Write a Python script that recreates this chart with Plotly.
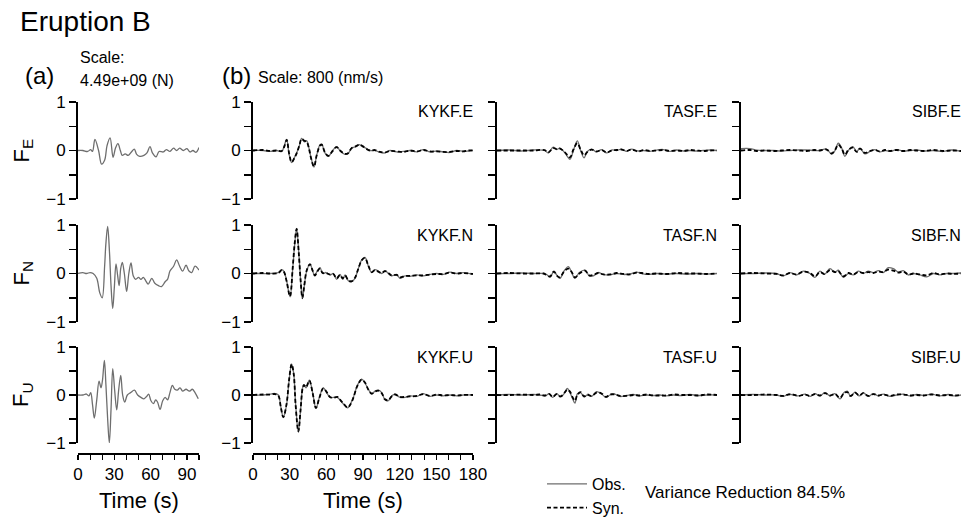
import plotly.graph_objects as go

# ---------------- data ----------------
# Panel (a): source force time functions, 0-100 s, normalised
FE_t = [0, 4, 8, 10.5, 12, 14, 17, 19.5, 22, 24, 26.5, 29, 31, 33, 35, 36.5, 39, 41.5, 44.5, 46.5, 48.5, 51, 54.5, 57, 59.5, 61.5, 64.5, 67, 70.5, 73, 76, 79, 81.5, 84, 87, 90, 92.5, 95, 97.5, 100]
FE_v = [0, 0, -0.02, 0.02, -0.02, 0.23, 0.0, -0.28, -0.2, 0.1, 0.26, -0.14, 0.05, 0.14, 0.0, -0.1, -0.07, -0.1, -0.02, 0.03, -0.08, -0.12, -0.1, -0.05, 0.08, -0.05, -0.13, -0.02, -0.03, 0.02, -0.02, 0.05, 0.0, 0.05, 0.0, 0.04, -0.03, 0.0, -0.04, 0.06]

FN_t = [0, 4, 7, 10, 12.5, 15.5, 18, 20, 22, 23, 24.5, 26, 27.3, 28.7, 30, 31.4, 32.8, 34, 35.3, 36.6, 38.3, 40.2, 42, 43.8, 45.7, 47.7, 50, 52, 54, 56, 58, 61, 63.5, 66.5, 69, 72, 74, 76, 79, 81.5, 84, 86.5, 89.3, 91.7, 94, 96.7, 100]
FN_v = [0, 0.02, 0.0, 0.02, 0.0, -0.1, -0.4, -0.5, 0.15, 0.6, 0.97, 0.45, -0.25, -0.72, -0.3, 0.2, -0.05, -0.25, 0.1, 0.23, 0.0, -0.37, 0.0, 0.22, -0.05, -0.12, -0.08, -0.12, -0.08, -0.15, -0.22, -0.1, -0.2, -0.25, -0.27, -0.17, -0.12, 0.05, 0.15, 0.28, 0.15, 0.05, 0.17, 0.05, 0.02, 0.15, 0.07]

FU_t = [0, 4, 7, 9, 10.5, 12, 13.5, 15.5, 17.4, 19, 20.2, 21.8, 23.1, 24.5, 25.9, 27.3, 28.7, 30.3, 32, 33.6, 35.3, 36.9, 38.6, 40.8, 43.5, 46.6, 49.3, 52, 54.5, 56.7, 58.4, 60.3, 62.3, 64.2, 65.8, 67.8, 70, 72, 74, 76, 78, 80, 82, 84.3, 86.5, 89.3, 92, 94.5, 96.7, 99.4]
FU_v = [0, 0.0, 0.02, -0.02, 0.05, -0.2, -0.48, -0.1, 0.29, 0.15, 0.3, 0.72, 0.2, -0.5, -1.0, -0.3, 0.55, 0.1, -0.31, 0.1, 0.41, 0.0, -0.15, 0.0, 0.05, 0.1, 0.0, -0.05, -0.08, -0.03, 0.02, -0.12, -0.18, -0.1, -0.15, -0.3, -0.12, -0.05, -0.1, 0.05, 0.2, 0.12, 0.1, 0.15, 0.08, 0.12, 0.08, 0.12, 0.05, -0.08]

# Panel (b): station waveforms, 0-180 s (obs = observed, syn = synthetic)
KE_t = [0, 8.5, 14, 19.5, 23.5, 25.6, 27.5, 29.7, 31.6, 33.8, 35.7, 37.9, 39.8, 42, 43.9, 45.8, 47.5, 49.9, 52.1, 54.8, 56.2, 58.9, 61.6, 65.2, 68.4, 71.7, 75.3, 78, 80.7, 84.3, 87, 89.7, 92.4, 95.7, 99.8, 104, 108, 112, 117.5, 123, 128.4, 134, 139.4, 144.8, 150.3, 155.7, 161.2, 166.6, 172, 176.2, 180]
KE_obs = [0, 0.0, -0.02, 0.0, -0.02, 0.1, 0.23, -0.1, -0.25, -0.15, -0.05, 0.1, 0.25, 0.18, 0.2, 0.05, -0.15, -0.34, -0.1, 0.12, 0.13, -0.05, -0.12, 0.0, 0.08, -0.02, -0.08, -0.06, 0.05, 0.08, 0.12, 0.08, 0.05, 0.0, 0.0, -0.04, -0.05, 0.0, -0.03, -0.02, 0.0, -0.03, 0.02, -0.03, -0.01, -0.03, -0.04, 0.0, -0.02, -0.01, 0.0]
KE_syn = [0, 0.01, -0.01, 0.0, -0.01, 0.08, 0.22, -0.08, -0.24, -0.16, -0.06, 0.1, 0.24, 0.2, 0.18, 0.04, -0.16, -0.33, -0.1, 0.1, 0.12, -0.04, -0.11, -0.01, 0.07, -0.01, -0.07, -0.05, 0.05, 0.09, 0.12, 0.09, 0.04, 0.0, 0.01, -0.03, -0.04, -0.01, -0.02, -0.03, 0.0, -0.02, 0.01, -0.02, -0.02, -0.03, -0.03, -0.01, -0.02, 0.0, 0.0]

KN_t = [0, 8, 14, 20.7, 23.5, 25.4, 27.5, 30.3, 32.5, 34.1, 35.7, 37.4, 39, 40.4, 42, 43.9, 46.6, 48.8, 50.7, 52.1, 54.8, 57, 59.7, 63, 65.7, 68.4, 71.2, 73.4, 75.3, 78, 80.7, 83.4, 86.2, 88.9, 91.6, 94.4, 97.1, 99.8, 102.5, 105.3, 108, 110.7, 113.4, 117.5, 120.3, 124.4, 128.4, 134, 139.4, 144.8, 150.3, 155.7, 161.2, 166.6, 172, 180]
KN_obs = [0, 0.0, 0.0, 0.02, 0.08, 0.04, -0.15, -0.48, 0.1, 0.6, 0.93, 0.45, -0.15, -0.52, -0.25, 0.05, 0.2, 0.05, -0.05, 0.03, 0.12, 0.0, 0.02, -0.03, 0.0, -0.12, -0.02, -0.12, -0.03, -0.15, -0.17, -0.1, 0.1, 0.28, 0.33, 0.15, 0.02, 0.08, 0.05, 0.0, 0.06, 0.0, -0.05, -0.02, -0.1, -0.05, -0.06, -0.03, -0.05, -0.02, 0.0, -0.02, 0.03, 0.0, 0.02, -0.02]
KN_syn = [0, 0.01, 0.0, 0.01, 0.07, 0.03, -0.16, -0.47, 0.12, 0.62, 0.92, 0.44, -0.16, -0.5, -0.24, 0.06, 0.19, 0.06, -0.04, 0.02, 0.1, 0.01, 0.01, -0.02, -0.01, -0.1, -0.03, -0.1, -0.04, -0.14, -0.16, -0.09, 0.1, 0.27, 0.32, 0.16, 0.03, 0.07, 0.04, 0.01, 0.05, 0.01, -0.04, -0.03, -0.08, -0.05, -0.05, -0.04, -0.04, -0.02, -0.01, -0.01, 0.02, 0.0, 0.01, -0.01]

KU_t = [0, 8.5, 14, 18, 20.7, 22.8, 24.8, 27.5, 29.5, 31.6, 33.3, 34.9, 37.1, 39, 40.6, 41.7, 43.4, 46.1, 48.8, 51.5, 54.3, 57.5, 60.3, 63, 65.7, 69, 71.7, 74.4, 77.4, 79.4, 82.1, 85.4, 88.9, 91.6, 94.4, 97.1, 99.8, 102.5, 105.3, 108, 110.7, 113.4, 116.2, 120.3, 124.4, 128.4, 134, 139.4, 144.8, 150.3, 155.7, 161.2, 166.6, 172, 180]
KU_obs = [0, 0.0, 0.02, 0.03, 0.0, -0.25, -0.47, -0.2, 0.3, 0.65, 0.45, -0.2, -0.77, -0.3, 0.15, 0.2, 0.15, 0.31, 0.05, -0.28, -0.05, 0.15, 0.05, -0.05, -0.05, -0.05, -0.12, -0.2, -0.27, -0.2, -0.05, 0.2, 0.33, 0.25, 0.12, 0.02, 0.08, 0.1, 0.05, -0.1, -0.12, -0.02, 0.02, -0.05, -0.05, -0.02, -0.03, 0.03, -0.03, 0.0, -0.02, 0.0, -0.02, 0.0, 0.0]
KU_syn = [0, 0.01, 0.01, 0.02, -0.01, -0.26, -0.46, -0.18, 0.31, 0.64, 0.44, -0.22, -0.76, -0.28, 0.14, 0.21, 0.16, 0.3, 0.04, -0.27, -0.06, 0.14, 0.06, -0.04, -0.06, -0.04, -0.11, -0.19, -0.26, -0.21, -0.06, 0.19, 0.32, 0.26, 0.11, 0.03, 0.07, 0.09, 0.04, -0.09, -0.11, -0.03, 0.01, -0.04, -0.04, -0.03, -0.02, 0.02, -0.02, 0.01, -0.01, 0.0, -0.01, 0.0, 0.0]

TE_t = [0, 10, 20, 30, 39, 42, 46, 48.8, 51.5, 55.6, 59.7, 62.5, 65.7, 68.4, 71.2, 73.9, 77.4, 81.5, 85.6, 89.7, 93.8, 97.9, 102, 106, 110, 115.6, 119.7, 125, 130.6, 136, 141.5, 147, 152.4, 157.9, 163.4, 168.8, 174, 180]
TE_obs = [0, 0.01, -0.01, 0.01, 0.0, -0.05, 0.07, 0.02, 0.05, -0.05, -0.18, 0.0, 0.2, 0.0, -0.15, -0.02, 0.03, -0.03, 0.02, -0.05, 0.01, 0.0, 0.03, -0.02, 0.03, -0.01, 0.0, -0.02, 0.01, 0.02, -0.02, 0.01, -0.01, 0.0, -0.01, 0.0, 0.01, 0.0]
TE_syn = [0, 0.0, 0.0, 0.0, 0.01, -0.04, 0.05, 0.03, 0.04, -0.04, -0.14, 0.02, 0.15, 0.02, -0.1, -0.03, 0.02, -0.02, 0.01, -0.04, 0.0, 0.01, 0.02, -0.01, 0.02, -0.02, 0.01, -0.01, 0.0, 0.01, -0.01, 0.0, -0.01, 0.01, 0.0, -0.01, 0.0, 0.0]

TN_t = [0, 10, 20, 30, 38, 40.6, 43.4, 46.6, 48.8, 51.5, 54.8, 58.4, 61.1, 63.8, 67.4, 72, 75.5, 78.8, 82.9, 87, 92.4, 97.9, 103.4, 108.8, 114.3, 118.4, 123.8, 130.6, 138.8, 147, 155, 163.4, 171.5, 180]
TN_obs = [0, 0.0, 0.01, 0.0, 0.0, -0.02, -0.08, 0.05, -0.03, -0.1, 0.05, 0.14, 0.02, -0.1, 0.02, 0.07, -0.05, -0.05, 0.02, -0.02, -0.03, 0.0, -0.02, -0.01, 0.03, 0.0, -0.02, 0.0, -0.01, 0.0, -0.01, 0.0, -0.01, 0.0]
TN_syn = [0, 0.01, 0.0, 0.0, 0.0, -0.03, -0.06, 0.04, -0.04, -0.08, 0.04, 0.1, 0.03, -0.08, 0.0, 0.06, -0.04, -0.03, 0.01, -0.02, -0.02, 0.01, -0.01, -0.02, 0.02, 0.01, -0.01, 0.0, -0.01, 0.01, 0.0, 0.0, -0.01, 0.0]

TU_t = [0, 10, 20, 30, 35, 39.3, 42.8, 45.5, 48.8, 52, 55.6, 57.5, 59.7, 61.9, 63.8, 65.7, 68.4, 71.2, 73.9, 77.4, 81.5, 85.6, 89.2, 92.4, 96.5, 100.6, 106, 111.5, 117, 122.4, 127.9, 133.4, 138.8, 144.3, 151, 157.9, 164.7, 171.5, 180]
TU_obs = [0, 0.01, 0.0, 0.01, 0.0, -0.02, 0.03, -0.05, 0.03, -0.04, 0.05, 0.14, 0.05, -0.08, -0.17, 0.02, 0.05, -0.04, 0.0, -0.03, 0.07, 0.02, -0.05, 0.0, 0.02, -0.03, -0.01, 0.01, -0.02, 0.0, -0.01, 0.0, -0.02, 0.0, -0.01, 0.01, -0.01, 0.0, 0.0]
TU_syn = [0, 0.0, 0.01, 0.0, 0.01, -0.01, 0.02, -0.04, 0.02, -0.03, 0.06, 0.11, 0.07, -0.05, -0.12, 0.0, 0.06, -0.03, 0.01, -0.02, 0.05, 0.03, -0.04, 0.01, 0.01, -0.02, -0.02, 0.0, -0.01, 0.01, -0.01, -0.01, -0.01, 0.01, 0.0, 0.0, -0.01, 0.01, 0.0]

SE_t = [0, 7.4, 12.8, 20, 26.5, 33, 40, 47, 53.7, 60, 64.6, 70, 74.2, 76.9, 79.6, 82.4, 85, 87.8, 91.4, 94.6, 97.4, 101.4, 105.5, 109.6, 113.7, 117.8, 121.9, 127.4, 132.8, 138.3, 143.7, 149.2, 157.4, 165.5, 172.3, 180]
SE_obs = [0.04, 0.04, 0.01, 0.0, 0.0, -0.01, 0.0, 0.01, 0.01, 0.0, 0.0, 0.03, -0.08, 0.0, 0.15, 0.05, -0.12, 0.0, 0.08, -0.02, 0.05, -0.07, -0.02, 0.02, -0.03, 0.0, -0.02, 0.02, -0.01, 0.0, 0.01, -0.01, 0.0, -0.02, 0.01, -0.02]
SE_syn = [0.0, 0.01, -0.01, 0.0, -0.01, 0.0, 0.01, 0.0, -0.01, 0.01, 0.0, 0.02, -0.06, 0.01, 0.12, 0.04, -0.09, 0.01, 0.06, -0.03, 0.04, -0.05, -0.01, 0.01, -0.02, 0.01, -0.01, 0.01, -0.01, 0.01, 0.0, -0.01, 0.01, -0.01, 0.0, -0.01]

SN_t = [0, 10, 20, 29, 34.6, 40, 45.5, 51, 56.5, 60.5, 64.6, 68.2, 72.8, 76.9, 79.6, 83.7, 87.8, 91.9, 96, 100, 104.2, 108.3, 112.4, 116.4, 120.5, 124.6, 128.7, 132.8, 136.9, 141, 146.4, 151.9, 157.4, 162.8, 168.3, 173.7, 180]
SN_obs = [0, 0.0, 0.01, 0.0, -0.05, 0.02, -0.03, 0.05, 0.0, -0.08, 0.05, -0.02, 0.1, 0.02, 0.07, -0.08, 0.0, -0.03, 0.05, 0.0, 0.05, 0.02, 0.06, 0.02, 0.12, 0.1, 0.03, 0.06, -0.03, 0.0, -0.03, -0.07, 0.0, -0.03, 0.0, 0.0, 0.01]
SN_syn = [0, 0.01, 0.0, -0.01, -0.04, 0.01, -0.02, 0.04, 0.01, -0.06, 0.03, -0.01, 0.07, 0.03, 0.05, -0.06, 0.01, -0.02, 0.03, 0.01, 0.03, 0.01, 0.04, 0.03, 0.08, 0.06, 0.02, 0.04, -0.02, 0.0, -0.02, -0.04, 0.01, -0.02, 0.0, -0.01, 0.0]

SU_t = [0, 10, 20, 29, 34.6, 38.7, 42.8, 46.9, 52.4, 56.5, 60.5, 64.6, 68.7, 72.8, 76.9, 81, 84.3, 87, 89.7, 93.3, 96.8, 100, 104.2, 108.3, 112.4, 116.4, 121.9, 127.4, 132.8, 138.3, 143.7, 149.2, 156, 162.8, 169.6, 175, 180]
SU_obs = [0, 0.01, 0.0, 0.0, -0.03, 0.02, 0.0, -0.02, 0.02, -0.03, 0.03, -0.02, 0.05, -0.02, 0.03, -0.08, 0.05, 0.08, -0.03, 0.06, -0.02, 0.05, -0.03, 0.03, -0.02, 0.02, -0.03, 0.0, 0.02, -0.02, 0.01, -0.01, 0.02, -0.02, 0.01, -0.02, 0.0]
SU_syn = [0, 0.0, 0.01, 0.0, -0.02, 0.01, 0.01, -0.02, 0.01, -0.02, 0.02, -0.01, 0.04, -0.01, 0.02, -0.06, 0.04, 0.06, -0.02, 0.05, -0.01, 0.04, -0.02, 0.02, -0.01, 0.01, -0.02, 0.01, 0.01, -0.01, 0.0, -0.01, 0.01, -0.01, 0.0, -0.01, 0.0]

force_labels = ["F<sub>E</sub>", "F<sub>N</sub>", "F<sub>U</sub>"]
stations = ["KYKF", "TASF", "SIBF"]
components = ["E", "N", "U"]
a_ticks = [0, 10, 20, 30, 40, 50, 60, 70, 80, 90, 100]
a_ticktext = ["0", "", "", "30", "", "", "60", "", "", "90", ""]
b_ticks = [0, 10, 20, 30, 40, 50, 60, 70, 80, 90, 100, 110, 120, 130, 140, 150, 160, 170, 180]
b_ticktext = ["0", "", "", "30", "", "", "60", "", "", "90", "", "", "120", "", "", "150", "", "", "180"]
y_ticks = [-1, -0.5, 0, 0.5, 1]
y_ticktext = ["\u22121", "", "0", "", "1"]

panel_a = [(FE_t, FE_v), (FN_t, FN_v), (FU_t, FU_v)]
panel_b = {
    ("KYKF", "E"): (KE_t, KE_obs, KE_syn),
    ("KYKF", "N"): (KN_t, KN_obs, KN_syn),
    ("KYKF", "U"): (KU_t, KU_obs, KU_syn),
    ("TASF", "E"): (TE_t, TE_obs, TE_syn),
    ("TASF", "N"): (TN_t, TN_obs, TN_syn),
    ("TASF", "U"): (TU_t, TU_obs, TU_syn),
    ("SIBF", "E"): (SE_t, SE_obs, SE_syn),
    ("SIBF", "N"): (SN_t, SN_obs, SN_syn),
    ("SIBF", "U"): (SU_t, SU_obs, SU_syn),
}

# ---------------- layout geometry (pixels) ----------------
W, H = 967, 517
def px(x): return x / W
def py(y): return 1 - y / H

ROWS = [(102, 199), (225, 322), (347, 443)]
A_COL = (78, 199)
B_COLS = [(253, 473), (497, 717), (741, 961)]
XAXIS_Y = 453

FONT = "Arial, Liberation Sans, sans-serif"
OBS_COLOR = "#6e6e6e"

fig = go.Figure()
layout = dict(
    template="none",
    width=W, height=H,
    margin=dict(l=0, r=0, t=0, b=0, pad=0, autoexpand=False),
    paper_bgcolor="white", plot_bgcolor="rgba(0,0,0,0)",
    font=dict(family=FONT, color="black"),
    showlegend=True,
)
annotations = []

def add_axes(n, xdom, ydom, xrange, xt, xtt, bottom, ylabels):
    xs = "xaxis" if n == 1 else f"xaxis{n}"
    ys = "yaxis" if n == 1 else f"yaxis{n}"
    xa = dict(domain=[px(xdom[0]), px(xdom[1])], range=xrange, showgrid=False,
              zeroline=False, fixedrange=True, automargin=False)
    if bottom:
        xa.update(anchor="free", position=py(XAXIS_Y), showline=True, linecolor="black",
                  linewidth=1.5, ticks="outside", ticklen=5, tickwidth=1.2, tickcolor="black",
                  tickmode="array", tickvals=xt, ticktext=xtt,
                  tickfont=dict(size=17, family=FONT, color="black"))
    else:
        xa.update(visible=False, anchor=f"y{n}")
    ya = dict(domain=[py(ydom[1]), py(ydom[0])], range=[-1, 1], anchor=f"x{n}",
              showgrid=False, zeroline=False, showline=True, linecolor="black", linewidth=2,
              ticks="outside", ticklen=7, tickwidth=1.5, tickcolor="black",
              tickmode="array", tickvals=y_ticks, ticktext=y_ticktext,
              showticklabels=ylabels, tickfont=dict(size=17, family=FONT, color="black"),
              fixedrange=True, automargin=False)
    layout[xs] = xa
    layout[ys] = ya

n = 0
# Panel (a)
for r, (t, v) in enumerate(panel_a):
    n += 1
    add_axes(n, A_COL, ROWS[r], [0, 100], a_ticks, a_ticktext, r == 2, True)
    fig.add_trace(go.Scatter(x=t, y=v, mode="lines", xaxis=f"x{n}", yaxis=f"y{n}",
                             line=dict(color=OBS_COLOR, width=1.3, shape="spline", smoothing=1.0),
                             showlegend=False, hoverinfo="skip"))
    annotations.append(dict(x=px(22), y=py((ROWS[r][0] + ROWS[r][1]) / 2), xref="paper", yref="paper",
                            text=force_labels[r], textangle=-90, showarrow=False,
                            font=dict(size=22, family=FONT, color="black"),
                            xanchor="center", yanchor="middle"))

# Panel (b)
first = True
for c, st in enumerate(stations):
    for r, comp in enumerate(components):
        n += 1
        add_axes(n, B_COLS[c], ROWS[r], [0, 180], b_ticks, b_ticktext, (r == 2 and c == 0), c == 0)
        t, obs, syn = panel_b[(st, comp)]
        fig.add_trace(go.Scatter(x=t, y=obs, mode="lines", xaxis=f"x{n}", yaxis=f"y{n}", name="Obs.",
                                 line=dict(color=OBS_COLOR, width=1.3, shape="spline", smoothing=1.0),
                                 showlegend=first, legendrank=1, hoverinfo="skip"))
        fig.add_trace(go.Scatter(x=t, y=syn, mode="lines", xaxis=f"x{n}", yaxis=f"y{n}", name="Syn.",
                                 line=dict(color="black", width=1.8, dash="4px,2.5px", shape="spline", smoothing=1.0),
                                 showlegend=first, legendrank=2, hoverinfo="skip"))
        first = False
        annotations.append(dict(x=px(B_COLS[c][1] + 2), y=py(ROWS[r][0] + 10), xref="paper", yref="paper",
                                text=f"{st}.{comp}", showarrow=False,
                                font=dict(size=16, family=FONT, color="black"),
                                xanchor="right", yanchor="middle"))

def text(x, y, s, size, anchor="left"):
    annotations.append(dict(x=px(x), y=py(y), xref="paper", yref="paper", text=s, showarrow=False,
                            font=dict(size=size, family=FONT, color="black"),
                            xanchor=anchor, yanchor="middle"))

text(18, 22, "Eruption B", 28)
text(23, 75, "(a)", 24)
text(78, 57, "Scale:", 16)
text(78, 80, "4.49e+09 (N)", 16)
text(220, 75, "(b)", 24)
text(256, 77, "Scale: 800 (nm/s)", 16)
text((A_COL[0] + A_COL[1]) / 2, 500, "Time (s)", 22, "center")
text((B_COLS[0][0] + B_COLS[0][1]) / 2, 500, "Time (s)", 22, "center")
text(643, 492, "Variance Reduction 84.5%", 17)

layout["annotations"] = annotations
layout["legend"] = dict(x=px(542), y=py(467), xanchor="left", yanchor="top",
                        bgcolor="rgba(0,0,0,0)", borderwidth=0,
                        font=dict(size=16, family=FONT, color="black"),
                        tracegroupgap=0, itemwidth=40, traceorder="normal")
fig.update_layout(**layout)
fig.write_html("out.html", config={"displayModeBar": False, "staticPlot": True},
               post_script="document.body.style.margin='0';document.body.style.overflow='hidden';")
